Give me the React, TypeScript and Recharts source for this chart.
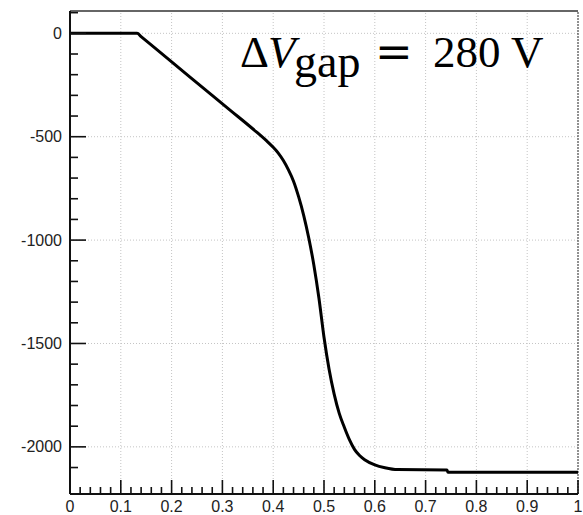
import { LineChart, Line, XAxis, YAxis, ReferenceLine } from "recharts";

// position along the gap (x) and potential (V)
const positions = [
  0, 0.132, 0.14, 0.25, 0.315, 0.3675, 0.39, 0.4, 0.41, 0.42, 0.43, 0.44,
  0.45, 0.46, 0.47, 0.48, 0.49, 0.5, 0.51, 0.52, 0.53, 0.54, 0.55, 0.56, 0.57,
  0.58, 0.6, 0.62, 0.645, 0.742, 0.744, 1.0,
];
const potential = [
  0, 0, -16, -240, -371, -478, -527, -551, -579, -615, -660, -715, -790, -880,
  -990, -1120, -1280, -1470, -1625, -1745, -1838, -1905, -1965, -2012, -2042,
  -2062, -2087, -2101, -2110, -2112, -2123, -2123,
];

const xMajor = [0, 0.1, 0.2, 0.3, 0.4, 0.5, 0.6, 0.7, 0.8, 0.9, 1];
const xLabels = ["0", "0.1", "0.2", "0.3", "0.4", "0.5", "0.6", "0.7", "0.8", "0.9", "1"];
const yMajor = [0, -500, -1000, -1500, -2000];
const yLabels = ["0", "-500", "-1000", "-1500", "-2000"];

const xTicks = Array.from({ length: 51 }, (_, i) => +(i * 0.02).toFixed(2));
const yTicks = Array.from({ length: 23 }, (_, i) => 100 - i * 100);

const Y_MIN = -2228;
const Y_MAX = 108;

const data = positions.map((x, i) => ({ x, v: potential[i] }));

const FONT = "'Liberation Sans', Arial, sans-serif";

const XTick = (props: any) => {
  const { x, y, payload } = props;
  const idx = xMajor.findIndex(m => Math.abs(m - payload.value) < 1e-6);
  const major = idx >= 0;
  return (
    <g>
      <line x1={x} x2={x} y1={y} y2={y - (major ? 14 : 7)} stroke="#111" strokeWidth={1.6} />
      {major && (
        <text x={x} y={y + 18} textAnchor="middle" fontSize={16} fontFamily={FONT} fill="#222">
          {xLabels[idx]}
        </text>
      )}
    </g>
  );
};

const YTick = (props: any) => {
  const { x, y, payload } = props;
  if (payload.value > Y_MAX || payload.value < Y_MIN) return <g />;
  const idx = yMajor.indexOf(payload.value);
  const major = idx >= 0;
  return (
    <g>
      <line x1={x} x2={x + (major ? 16 : 8)} y1={y} y2={y} stroke="#111" strokeWidth={1.6} />
      {major && (
        <text x={x - 8} y={y + 5.5} textAnchor="end" fontSize={16} fontFamily={FONT} fill="#222">
          {yLabels[idx]}
        </text>
      )}
    </g>
  );
};

export default function App() {
  return (
    <div style={{ position: "absolute", left: 0, top: 0, width: 583, height: 515, background: "#fff" }}>
      <LineChart
        width={583}
        height={515}
        data={data}
        margin={{ top: 11, right: 5, bottom: 0, left: 0 }}
      >
        {xMajor.slice(1, -1).map(v => (
          <ReferenceLine key={"gx" + v} x={v} stroke="#c4c4c4" strokeDasharray="1 2" />
        ))}
        {yMajor.map(v => (
          <ReferenceLine key={"gy" + v} y={v} stroke="#c4c4c4" strokeDasharray="1 2" />
        ))}
        <ReferenceLine y={Y_MAX} stroke="#666" strokeWidth={2} />
        <ReferenceLine x={1} stroke="#222" strokeDasharray="2 1" />
        <XAxis
          dataKey="x"
          type="number"
          domain={[0, 1]}
          ticks={xTicks}
          interval={0}
          tickSize={0}
          tickMargin={0}
          height={21}
          axisLine={{ stroke: "#111", strokeWidth: 2 }}
          tickLine={false}
          tick={<XTick />}
        />
        <YAxis
          type="number"
          domain={[Y_MIN, Y_MAX]}
          ticks={yTicks}
          interval={0}
          tickSize={0}
          tickMargin={0}
          width={70}
          allowDataOverflow
          axisLine={{ stroke: "#111", strokeWidth: 2 }}
          tickLine={false}
          tick={<YTick />}
        />
        <Line
          type="monotone"
          dataKey="v"
          stroke="#000"
          strokeWidth={3}
          strokeLinejoin="round"
          dot={false}
          isAnimationActive={false}
        />
      </LineChart>
      <svg
        width={583}
        height={515}
        style={{ position: "absolute", left: 0, top: 0, pointerEvents: "none" }}
      >
        <g fontFamily="'Liberation Serif', 'Times New Roman', serif" fill="#000">
          <text x={240} y={67} fontSize={45}>Δ</text>
          <text x={268} y={67} fontSize={45} fontStyle="italic">V</text>
          <text x={294} y={77} fontSize={46}>gap</text>
          <text x={375} y={67} fontSize={45} fontFamily="'DejaVu Serif', serif">=</text>
          <text x={433} y={67} fontSize={45}>280 V</text>
        </g>
      </svg>
    </div>
  );
}
